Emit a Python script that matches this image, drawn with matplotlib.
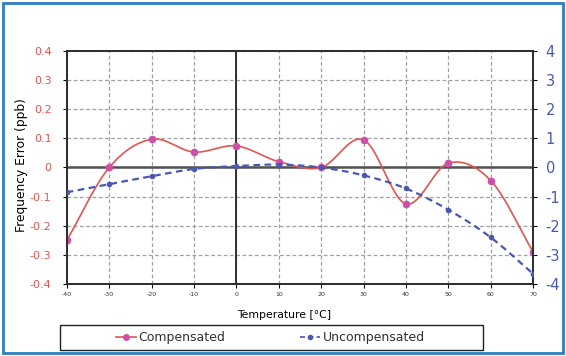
import numpy as np
import matplotlib
matplotlib.use("Agg")
import matplotlib.pyplot as plt
from matplotlib.patches import Rectangle

# temperature points [°C]
temps = [-40, -30, -20, -10, 0, 10, 20, 30, 40, 50, 60, 70]
# frequency error, compensated (left axis, ppb)
compensated = [-0.25, 0.0, 0.097, 0.053, 0.074, 0.02, 0.0, 0.095, -0.125, 0.015, -0.045, -0.29]
# frequency error, uncompensated (right axis, ppb)
uncompensated = [-0.85, -0.57, -0.3, -0.05, 0.05, 0.1, 0.0, -0.27, -0.72, -1.45, -2.4, -3.65]

left_ticks = [-0.4, -0.3, -0.2, -0.1, 0, 0.1, 0.2, 0.3, 0.4]
right_ticks = [-4, -3, -2, -1, 0, 1, 2, 3, 4]


def smooth(x, y, n=30):
    # catmull-rom like excel "smoothed line"
    x = np.asarray(x, float)
    y = np.asarray(y, float)
    px = np.concatenate([[2 * x[0] - x[1]], x, [2 * x[-1] - x[-2]]])
    py = np.concatenate([[2 * y[0] - y[1]], y, [2 * y[-1] - y[-2]]])
    xs, ys = [], []
    t = np.linspace(0, 1, n)
    for i in range(1, len(px) - 2):
        for p, out in ((px, xs), (py, ys)):
            p0, p1, p2, p3 = p[i - 1], p[i], p[i + 1], p[i + 2]
            out.append(0.5 * (2 * p1 + (-p0 + p2) * t
                              + (2 * p0 - 5 * p1 + 4 * p2 - p3) * t ** 2
                              + (-p0 + 3 * p1 - 3 * p2 + p3) * t ** 3))
    return np.concatenate(xs), np.concatenate(ys)


red = "#e0554f"
pink = "#cc4fa8"
blue = "#4a58b4"
grid_c = "#a0a0a0"

fig = plt.figure(figsize=(5.66, 3.56), dpi=100)
ax = fig.add_axes([0.118, 0.202, 0.824, 0.655])
ax2 = ax.twinx()

ax.set_xlim(-40, 70)
ax.set_ylim(-0.4, 0.4)
ax2.set_ylim(-4, 4)
ax.set_xticks(temps)
ax.set_yticks(left_ticks)
ax2.set_yticks(right_ticks)

ax.set_axisbelow(True)
ax.grid(True, color=grid_c, linestyle=(0, (3, 2)), linewidth=0.9, zorder=0)
ax.axhline(0, color="#505050", linewidth=1.8, zorder=1.5)
ax.axvline(0, color="#303030", linewidth=1.4, zorder=1.5)

sx, sy = smooth(temps, compensated)
ax.plot(sx, sy, color=red, linewidth=1.2, zorder=3)
ax.plot(temps, compensated, linestyle="none", marker="o", markersize=4.5,
        color=pink, zorder=4)
ux, uy = smooth(temps, uncompensated)
ax2.plot(ux, uy, color=blue, linewidth=1.6, linestyle=(0, (3, 2)), zorder=3)
ax2.plot(temps, uncompensated, linestyle="none", marker="o", markersize=3,
         color=blue, zorder=4)

ax.set_yticklabels(["%g" % v for v in left_ticks], color=red, fontsize=8)
ax2.set_yticklabels([str(v) for v in right_ticks], color=blue, fontsize=10.5)
ax.set_xticklabels([str(v) for v in temps], fontsize=4.5, color="#333333")
ax.tick_params(axis="x", length=3, pad=3)
ax.tick_params(axis="y", length=3, pad=8)
ax2.tick_params(axis="y", length=3, pad=6)
for s in ax.spines.values():
    s.set_color("#303030")
    s.set_linewidth(1.4)
for s in ax2.spines.values():
    s.set_color("#303030")
    s.set_linewidth(1.4)

ax.set_xlabel("Temperature [°C]", fontsize=7.8)
ax.xaxis.set_label_coords(0.466, -0.11)
ax.set_ylabel("Frequency Error (ppb)", fontsize=8.8)
ax.yaxis.set_label_coords(-0.084, 0.51)

# legend box
fig.patches.append(Rectangle((60 / 566, 6 / 356), 423 / 566, 25 / 356,
                             transform=fig.transFigure, fill=False,
                             edgecolor="#202020", linewidth=1.0))
h1 = plt.Line2D([], [], color=red, marker="o", markersize=4, markerfacecolor=pink,
                markeredgecolor=pink, linewidth=1.2)
h2 = plt.Line2D([], [], color=blue, marker="o", markersize=3, linestyle=(0, (3, 2)),
                linewidth=1.2)
leg = fig.legend([h1, h2], ["Compensated", "Uncompensated"], ncol=2,
                 loc="center", bbox_to_anchor=(270 / 566, 18.5 / 356),
                 fontsize=9, frameon=False, handlelength=1.6, handletextpad=0.2,
                 borderpad=0.0, columnspacing=6.0)
for t in leg.get_texts():
    t.set_color("#303030")

# outer blue frame
fig.patches.append(Rectangle((0.005, 0.008), 0.99, 0.984, transform=fig.transFigure,
                             fill=False, edgecolor="#2a7fc0", linewidth=2.0))

fig.savefig("out.png", dpi=100)
